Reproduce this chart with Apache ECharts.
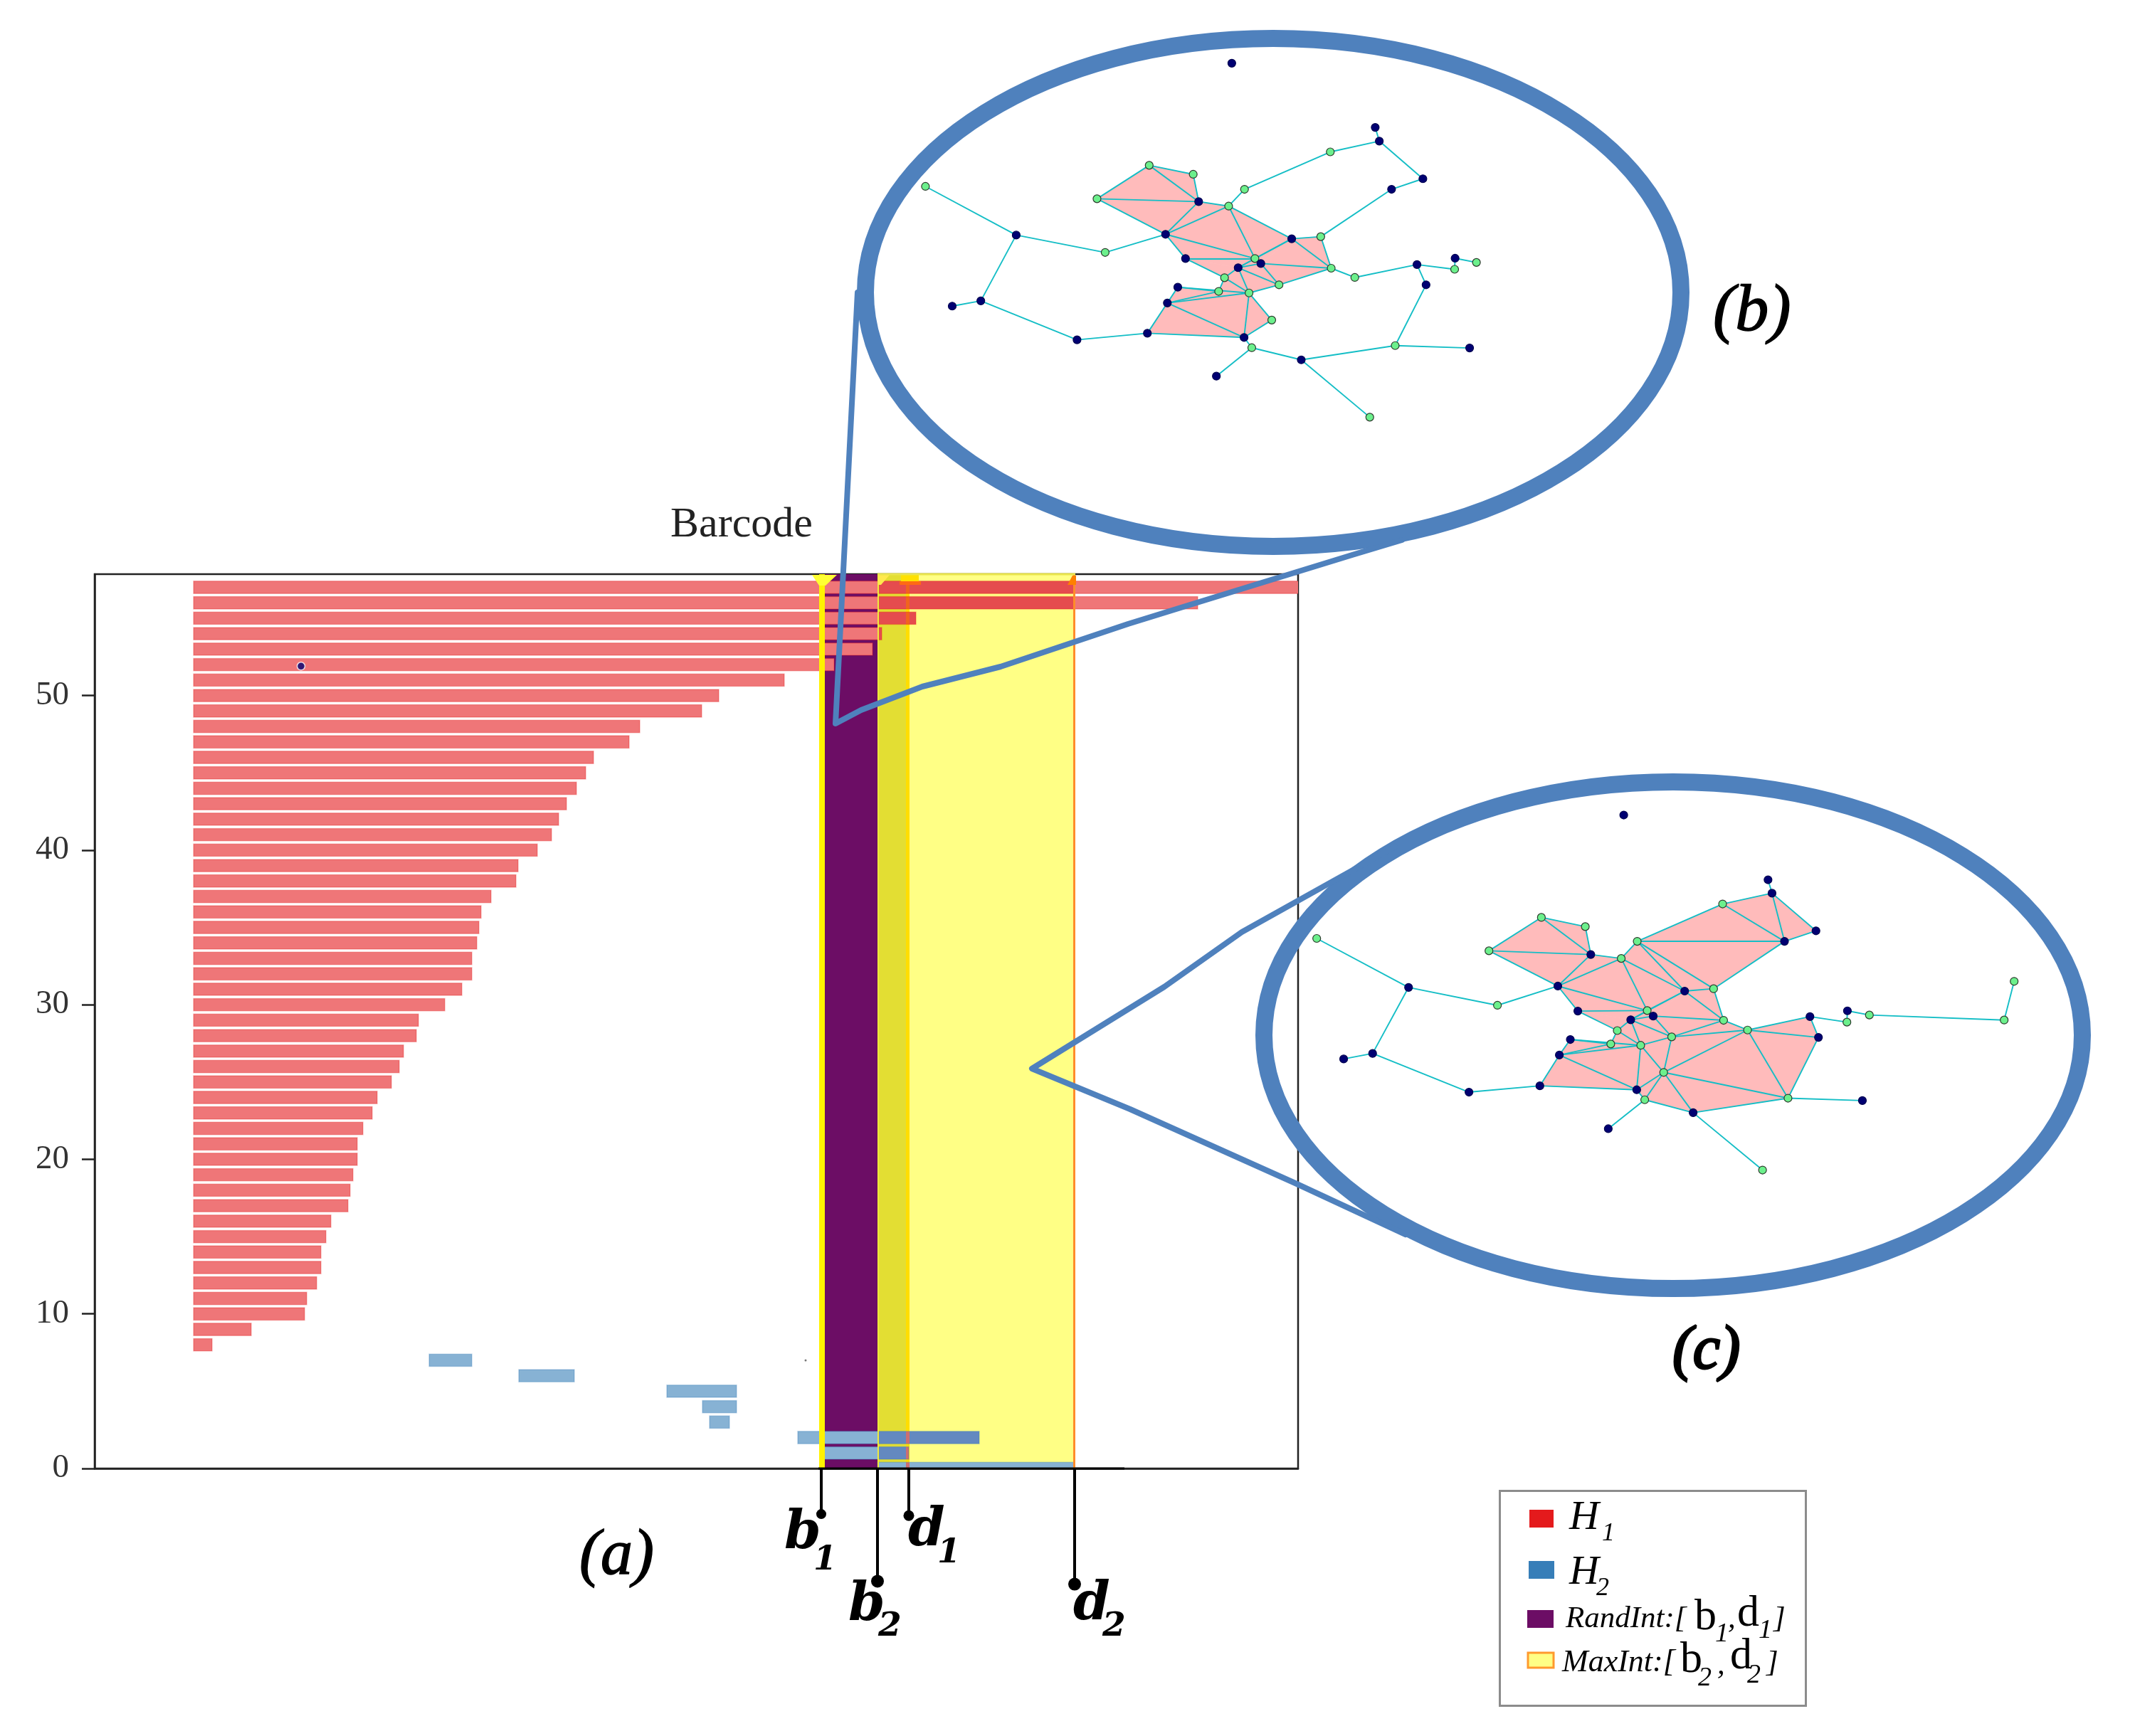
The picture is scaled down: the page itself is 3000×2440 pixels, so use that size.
<!DOCTYPE html>
<html><head><meta charset="utf-8">
<script src="https://cdn.jsdelivr.net/npm/echarts@6/dist/echarts.min.js"></script>
<style>html,body{margin:0;background:#fff}#c{width:3000px;height:2440px}</style></head>
<body><div id="c"></div>
<script>
// ---- barcode data (x axis is unlabelled; values are in the plot's own width units) ----
const yTickLabels = [0,10,20,30,40,50];
const h1Rows = [8,9,10,11,12,13,14,15,16,17,18,19,20,21,22,23,24,25,26,27,28,29,30,31,32,33,34,35,36,37,38,39,40,41,42,43,44,45,46,47,48,49,50,51,52,53,54,55,56,57];
const h1Birth = 139;
const h1Death = [165,220,295,298,312,318,318,325,332,356,359,363,369,369,377,390,397,417,428,434,452,455,492,516,530,530,537,540,543,557,592,595,622,642,652,663,677,690,701,751,766,853,877,969,1039,1093,1106,1154,1550,1700];
const h2Rows = [0,1,2,3,4,5,6,7];
const h2Birth = [1100,1021,988,864,854,804,596,470];
const h2Death = [1377,1144,1243,892,902,902,674,530];
const b1 = 1021, d1 = 1144, b2 = 1100, d2 = 1377;
const strayX = [290,999], strayY = [51.9,7], straySize=[11,3], strayColor=['#000072','#555'];

// ---- inset graph (b) ----
const bX = [754,1070,1079,971,1175,1106,782,572,669,457,681,747,79,279,475,608,886,950,652,805,818,768,973,738,858,635,725,792,612,842,568,781,413,201,138,798,907,720,1058,1114,1278,1182,1162,1025,1245,1246,1293];
const bY = [78,322,374,415,517,557,557,466,500,593,604,621,546,731,797,728,745,737,820,820,839,855,857,893,920,929,945,951,989,1054,1104,1120,1129,981,1001,1159,1205,1267,1423,1151,1160,920,843,892,861,819,835];
const bKind = 'n n n g n n g g g g n g g n g n n g n g n n g g g n g g n g n n n n n g n n g g n n n g g n g'.split(' ');
const bEdges = [[1,2],[2,3],[3,6],[2,4],[4,5],[5,17],[6,11],[7,8],[7,9],[7,10],[8,10],[9,10],[9,15],[10,11],[10,15],[11,15],[11,16],[11,19],[12,13],[13,14],[14,15],[13,33],[33,34],[33,32],[32,30],[15,18],[15,19],[18,19],[18,23],[16,17],[16,19],[16,21],[16,22],[17,22],[19,21],[19,20],[20,21],[20,22],[20,24],[21,23],[21,24],[21,27],[22,24],[22,43],[23,26],[23,27],[24,27],[25,26],[25,27],[25,28],[26,28],[27,28],[27,29],[27,31],[28,30],[28,31],[29,31],[30,31],[31,35],[35,37],[35,36],[36,38],[36,39],[39,40],[39,41],[41,42],[42,43],[42,44],[44,45],[45,46]];
const bFaces = [[7,8,10],[7,9,10],[9,10,15],[10,11,15],[11,15,19],[11,16,19],[15,18,19],[16,17,22],[16,22,20],[16,19,20],[18,19,21],[18,21,23],[19,20,21],[20,21,24],[20,22,24],[21,23,27],[21,24,27],[25,26,28],[26,27,28],[25,26,27],[27,28,31],[27,29,31],[28,30,31],[23,26,27]];

// ---- inset graph (c) ----
const cX = [658,947,955,856,1043,980,685,493,581,388,592,653,43,227,405,526,780,838,566,705,717,672,858,645,754,551,632,692,529,738,490,684,348,155,97,700,797,627,936,987,1136,1048,1031,906,1105,1106,1150,1420,1440];
const cY = [42,288,339,380,482,522,522,431,466,558,572,587,511,697,765,692,711,702,787,785,806,820,822,861,885,895,912,917,954,1020,1071,1086,1095,948,969,1124,1173,1234,1391,1118,1127,887,808,859,829,786,802,821,674];
const cKind = 'n n n g n n g g g g n g g n g n n g n g n n g g g n g g n g n n n n n g n n g g n n n g g n g g g'.split(' ');
const cEdges = [[1,2],[2,3],[3,6],[2,4],[4,5],[2,5],[3,5],[5,6],[5,17],[6,11],[6,16],[6,17],[7,8],[7,9],[7,10],[8,10],[9,10],[9,15],[10,11],[10,15],[11,15],[11,16],[11,19],[12,13],[13,14],[14,15],[13,33],[33,34],[33,32],[32,30],[15,18],[15,19],[18,19],[18,23],[16,17],[16,19],[16,21],[16,22],[17,22],[19,21],[19,20],[20,21],[20,22],[20,24],[21,23],[21,24],[21,27],[22,24],[22,43],[23,26],[23,27],[24,27],[24,43],[24,29],[25,26],[25,27],[25,28],[26,28],[27,28],[27,29],[27,31],[28,30],[28,31],[29,31],[29,35],[29,36],[29,39],[29,43],[30,31],[31,35],[35,37],[35,36],[36,38],[36,39],[39,40],[39,41],[39,43],[41,42],[41,43],[42,43],[42,44],[44,45],[45,46],[46,47],[47,48]];
const cFaces = [[2,3,5],[2,4,5],[3,5,6],[5,6,17],[6,11,16],[6,16,17],[7,8,10],[7,9,10],[9,10,15],[10,11,15],[11,15,19],[11,16,19],[15,18,19],[16,17,22],[16,22,20],[16,19,20],[18,19,21],[18,21,23],[19,20,21],[20,21,24],[20,22,24],[21,23,27],[21,24,27],[22,24,43],[24,27,29],[24,29,43],[25,26,28],[26,27,28],[25,26,27],[27,28,31],[27,29,31],[28,30,31],[23,26,27],[29,31,35],[29,35,36],[29,36,39],[29,39,43],[39,41,43],[41,42,43]];

const SERIF = '"Liberation Serif"', SLAB = '"DejaVu Serif"';
const BLUE = '#4F81BD';

function rectBetween(api,x0,x1,yc,h,fill){
  const a = api.coord([x0,yc]), b = api.coord([x1,yc]), ph = api.size([0,h])[1];
  return {type:'rect',shape:{x:a[0],y:a[1]-ph/2,width:b[0]-a[0],height:ph},style:{fill}};
}
// colours of a bar where it crosses the Rand / Max intervals
function barRender(params,api,base,dark,over,edge){
  const s=api.value(0), e=api.value(1), y=api.value(2), h=0.8;
  const goldStart=d1-4, goldEnd=d1+1;
  const cuts=[s,b2,goldStart,goldEnd,d2,e].filter(v=>v>=s&&v<=e).sort((p,q)=>p-q);
  const children=[];
  for(let i=0;i<cuts.length-1;i++){
    const mid=(cuts[i]+cuts[i+1])/2; let col=base;
    if(mid>b2&&mid<d2) col = (y===0)?base:dark;
    if(mid>goldStart&&mid<goldEnd) col=over;
    children.push(rectBetween(api,cuts[i],cuts[i+1],y,h,col));
  }
  const o=rectBetween(api,s,e,y,h,'none');
  o.style={fill:'none',stroke:edge,lineWidth:1.5};
  children.push(o);
  return {type:'group',children};
}
function makeGraph(X,Y,kind,edges,faces,idx,name){
  return [{
    type:'custom',name:name+' faces',xAxisIndex:idx,yAxisIndex:idx,silent:true,clip:false,z:3,
    data:faces.map((f,i)=>[i]),
    renderItem(params,api){
      const f=faces[params.dataIndex];
      return {type:'polygon',shape:{points:f.map(n=>api.coord([X[n],Y[n]]))},style:{fill:'#FFBBBB',stroke:'#FFBBBB',lineWidth:.6}};
    }
  },{
    type:'graph',name:name,coordinateSystem:'cartesian2d',xAxisIndex:idx,yAxisIndex:idx,layout:'none',silent:true,z:4,
    symbol:'circle',symbolSize:11,
    data:X.map((x,i)=>({value:[x,Y[i]],itemStyle:{color:kind[i]==='n'?'#000072':'#6CF08C',borderColor:kind[i]==='n'?'#000050':'#2c3a2c',borderWidth:1.2}})),
    links:edges.map(e=>({source:e[0],target:e[1]})),
    lineStyle:{color:'#14BEC6',width:1.9,opacity:1,curveness:0},
    label:{show:false}
  }];
}
function txt(text,x,base,size,o={}){
  const fam=o.fam||SERIF;
  const st={text,x,y:base-(fam===SLAB?.346:.3375)*size,textAlign:'left',textVerticalAlign:'middle',verticalAlign:'middle',fill:'#000',
    font:`${o.style||'italic'} ${o.weight||'normal'} ${size}px ${fam}`};
  if(o.heavy){st.stroke='#000';st.lineWidth=o.heavy;}
  return {type:'text',z:120,silent:true,style:st};
}
function poly(points,fill,z=60){return {type:'polygon',z,silent:true,shape:{points},style:{fill}};}
function pline(points){return {type:'polyline',z:110,silent:true,shape:{points},style:{stroke:BLUE,lineWidth:8,fill:null,lineJoin:'round',lineCap:'round'}};}
function ring(cx,cy,rx,ry){return {type:'ellipse',z:105,silent:true,shape:{cx,cy,rx,ry},style:{stroke:BLUE,lineWidth:24,fill:null}};}
function sw(x,y,w,h,fill,stroke){return {type:'rect',z:110,silent:true,shape:{x,y,width:w,height:h},style:{fill,stroke:stroke||null,lineWidth:stroke?3:0}};}

const hiddenAxis={type:'value',show:false,min:0,max:1568};
const option={
  animation:false,backgroundColor:'#fff',
  title:{text:'Barcode',left:937,top:703,textStyle:{fontFamily:SERIF,fontSize:60,fontWeight:'normal',color:'#222'}},
  grid:[
    {left:133,top:807,width:1691,height:1257,show:true,borderColor:'#222',borderWidth:2.5,backgroundColor:'transparent'},
    {left:1250,top:60,width:1000,height:580},
    {left:1820,top:1130,width:1100,height:580}
  ],
  xAxis:[
    {type:'value',gridIndex:0,min:0,max:1691,axisLine:{show:true,onZero:false,lineStyle:{color:'#222',width:2.5}},axisTick:{show:false},axisLabel:{show:false},splitLine:{show:false}},
    {...hiddenAxis,gridIndex:1},{...hiddenAxis,gridIndex:2}
  ],
  yAxis:[
    {type:'value',gridIndex:0,min:0,max:57.85,
      axisLine:{show:true,lineStyle:{color:'#222',width:2.5}},
      axisTick:{show:true,length:18,customValues:yTickLabels,lineStyle:{color:'#222',width:2.5}},
      axisLabel:{show:true,margin:36,customValues:yTickLabels,fontFamily:SERIF,fontSize:47,color:'#333'},
      splitLine:{show:false}},
    {...hiddenAxis,gridIndex:1,inverse:true},{...hiddenAxis,gridIndex:2,inverse:true}
  ],
  series:[
    {type:'custom',name:'Intervals',xAxisIndex:0,yAxisIndex:0,clip:true,silent:true,z:1,
      data:[[b2,d2],[b1,b2],[b2,d1-4],[d1-4,d1+1]],
      renderItem(p,api){
        const c=['#FFFF85','#6C0D65','#E3DE33','#FFDE00'][p.dataIndex];
        return rectBetween(api,api.value(0),api.value(1),28.925,57.85,c);
      }},
    {type:'custom',name:'H1',xAxisIndex:0,yAxisIndex:0,clip:true,silent:true,z:2,encode:{x:[0,1],y:2},
      data:h1Rows.map((r,i)=>[h1Birth,h1Death[i],r]),
      renderItem:(p,api)=>barRender(p,api,'#EF7678','#E54C4E','#F0641E','rgba(228,26,28,.3)')},
    {type:'custom',name:'H2',xAxisIndex:0,yAxisIndex:0,clip:true,silent:true,z:2,encode:{x:[0,1],y:2},
      data:h2Rows.map((r,i)=>[h2Birth[i],h2Death[i],r]),
      renderItem:(p,api)=>barRender(p,api,'#87B2D4','#6389C0','#CC6E73','rgba(55,126,184,.3)')},
    {type:'custom',name:'Interval edges',xAxisIndex:0,yAxisIndex:0,clip:true,silent:true,z:3,
      data:[[b1-3,b1+5],[b2,b2+2],[d2-2,d2+1]],
      renderItem(p,api){
        const c=['#FFF200','#EFEA3C','#FF8C2A'][p.dataIndex];
        return rectBetween(api,api.value(0),api.value(1),28.925,57.85,c);
      }},
    {type:'custom',name:'Leaders',xAxisIndex:0,yAxisIndex:0,clip:false,silent:true,z:6,
      data:[[b1,-2.95,7],[b2,-7.29,9],[d1,-3.05,7.5],[d2,-7.48,9]],
      renderItem(p,api){
        const t=api.coord([api.value(0),0]), e=api.coord([api.value(0),api.value(1)]);
        return {type:'group',children:[
          {type:'line',shape:{x1:t[0],y1:t[1],x2:e[0],y2:e[1]},style:{stroke:'#000',lineWidth:4}},
          {type:'circle',shape:{cx:e[0],cy:e[1],r:api.value(2)},style:{fill:'#000'}}
        ]};
      }},
    {type:'custom',name:'Baseline',xAxisIndex:0,yAxisIndex:0,clip:false,silent:true,z:6,
      data:[[1017,1447]],
      renderItem(p,api){
        const a=api.coord([api.value(0),0]),b=api.coord([api.value(1),0]);
        return {type:'line',shape:{x1:a[0],y1:a[1],x2:b[0],y2:b[1]},style:{stroke:'#000',lineWidth:3}};
      }},
    {type:'scatter',name:'Stray',xAxisIndex:0,yAxisIndex:0,silent:true,z:7,symbol:'circle',
      data:strayX.map((x,i)=>({value:[x,strayY[i]],symbolSize:straySize[i],itemStyle:{color:strayColor[i],borderColor:i?'#555':'#fff',borderWidth:i?0:1.5}}))},
    ...makeGraph(bX,bY,bKind,bEdges,bFaces,1,'Graph b'),
    ...makeGraph(cX,cY,cKind,cEdges,cFaces,2,'Graph c')
  ],
  graphic:{elements:[
    // interval end caps
    poly([[1141,808],[1176,808],[1160,823],[1151,823]],'#FFFF33'),
    poly([[1234,808],[1250,808],[1238,822],[1234,822]],'#FFE94D'),
    {type:'rect',z:60,silent:true,shape:{x:1266,y:808,width:25,height:9},style:{fill:'#FFE100'}},
    {type:'rect',z:60,silent:true,shape:{x:1264,y:817,width:30,height:5},style:{fill:'#FF6A13'}},
    poly([[1500,822],[1512,822],[1512,809],[1507,809]],'#FF8000'),
    {type:'line',z:60,silent:true,shape:{x1:1233,y1:807,x2:1511,y2:807},style:{stroke:'#E8E34D',lineWidth:3}},
    // magnifier outlines and callouts
    ring(1789,411,573,357),
    ring(2351,1455,575,356),
    pline([[1205,411],[1174,1017],[1210,998],[1296,965],[1406,937],[1585,877],[1682,847],[1900,780],[1970,759]]),
    pline([[1960,1190],[1745,1310],[1636,1387],[1450,1502],[1588,1559],[1820,1663],[1975,1735]]),
    // panel labels
    txt('(a)',814,2219,90,{heavy:1.5}),
    txt('(b)',2407,471,94,{heavy:1.5}),
    txt('(c)',2350,1929,86,{heavy:3}),
    // interval labels
    txt('b',1102,2182,74,{fam:SLAB,weight:'bold'}),txt('1',1143,2210,47,{fam:SLAB,weight:'bold'}),
    txt('d',1276,2178,74,{fam:SLAB,weight:'bold'}),txt('1',1317,2200,47,{fam:SLAB,weight:'bold'}),
    txt('b',1192,2283,74,{fam:SLAB,weight:'bold'}),txt('2',1234,2303,47,{fam:SLAB,weight:'bold'}),
    txt('d',1508,2282,74,{fam:SLAB,weight:'bold'}),txt('2',1549,2303,47,{fam:SLAB,weight:'bold'}),
    // legend
    {type:'rect',z:110,silent:true,shape:{x:2107.5,y:2095.5,width:430,height:302},style:{fill:'#fff',stroke:'#8C8C8C',lineWidth:3}},
    sw(2149,2122,34,25,'#E41A1C'),
    sw(2148,2194,36,25,'#377EB8'),
    sw(2146,2263,37,25,'#6C0D65'),
    sw(2147,2323,36,21,'#FFFF85','#FF9A2E'),
    txt('H',2205,2153,58),txt('1',2251,2168,36),
    txt('H',2205,2230,58),txt('2',2243,2245,36),
    txt('RandInt:[',2200,2290,43),txt('b',2381,2295,62,{style:'normal'}),txt('1',2410,2310,38),txt(',',2428,2290,43),
    txt('d',2441,2290,62,{style:'normal'}),txt('1',2471,2305,38),txt(']',2492,2290,43),
    txt('MaxInt:[',2195,2352,44),txt('b',2361,2355,62,{style:'normal'}),txt('2',2386,2372,38),txt(',',2413,2355,43),
    txt('d',2431,2350,62,{style:'normal'}),txt('2',2455,2368,38),txt(']',2482,2352,43)
  ]}
};
const chart=echarts.init(document.getElementById('c'),null,{renderer:'canvas'});
chart.setOption(option);
</script></body></html>
